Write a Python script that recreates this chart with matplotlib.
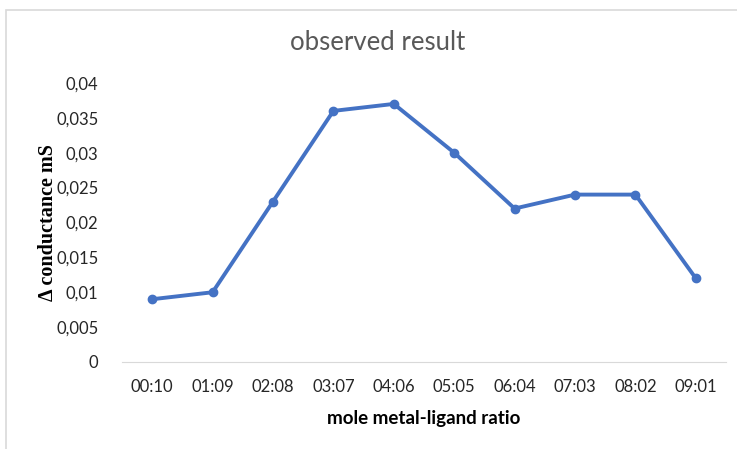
import matplotlib.pyplot as plt
from matplotlib.patches import Rectangle
from matplotlib.ticker import FuncFormatter

ratios = ['00:10', '01:09', '02:08', '03:07', '04:06', '05:05',
          '06:04', '07:03', '08:02', '09:01']
conductance = [0.009, 0.010, 0.023, 0.036, 0.037, 0.030,
               0.022, 0.024, 0.024, 0.012]
y_ticks = [0, 0.005, 0.01, 0.015, 0.02, 0.025, 0.03, 0.035, 0.04]

plt.rcParams['font.family'] = ['Lato', 'DejaVu Sans']

fig = plt.figure(figsize=(7.37, 4.49), dpi=100)
# chart frame like in excel
fig.patches.append(Rectangle((6 / 737, -0.05), 1.0, 1 - 10 / 449 + 0.05,
                             transform=fig.transFigure, fill=False,
                             edgecolor='#d9d9d9', linewidth=1.2))

ax = fig.add_axes([122 / 737, 1 - 362 / 449, 604 / 737, 279 / 449])
x = list(range(len(ratios)))
ax.plot(x, conductance, color='#4472C4', linewidth=2.8,
        marker='o', markersize=6)

ax.set_xlim(-0.5, len(ratios) - 0.5)
ax.set_ylim(0, 0.04)
ax.set_xticks(x)
ax.set_xticklabels(ratios)
ax.set_yticks(y_ticks)
ax.yaxis.set_major_formatter(FuncFormatter(lambda v, p: ('%g' % v).replace('.', ',')))
ax.tick_params(length=0, labelsize=12, colors='#262626')
ax.tick_params(axis='x', pad=12)
ax.tick_params(axis='y', pad=17)
for s in ['top', 'right', 'left']:
    ax.spines[s].set_visible(False)
ax.spines['bottom'].set_color('#d9d9d9')

ax.set_xlabel('mole metal-ligand ratio', fontsize=13.5, fontweight='bold',
              labelpad=11)
ax.set_ylabel('Δ conductance mS', fontsize=14.5, fontweight='bold',
              family=['Liberation Serif', 'DejaVu Serif'], labelpad=-1.5)
fig.text(0.513, 1 - 43 / 449, 'observed result', fontsize=18.5,
         color='#595959', ha='center', va='center')

fig.savefig('out.png', dpi=100)
